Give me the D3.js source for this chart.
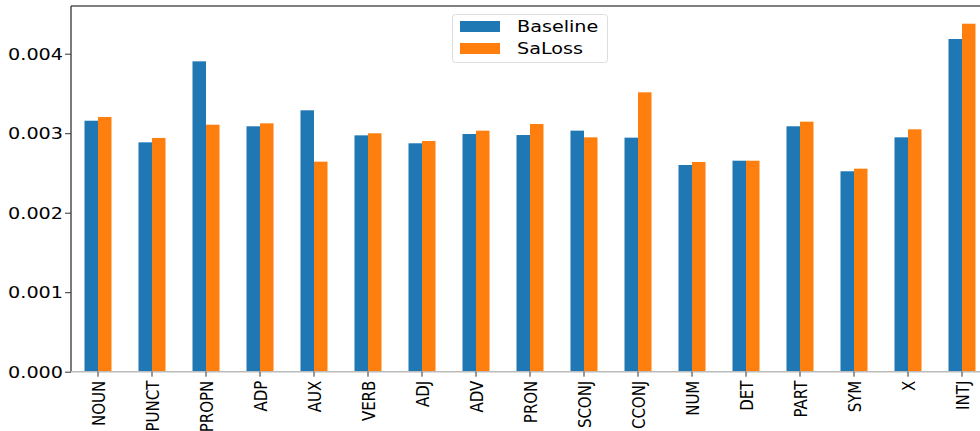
<!DOCTYPE html>
<html>
<head>
<meta charset="utf-8">
<script src="https://cdn.jsdelivr.net/npm/d3@7"></script>
<style>
  html, body { margin: 0; padding: 0; background: #fff; }
  svg { display: block; font-family: "DejaVu Sans", sans-serif; }
</style>
</head>
<body>
<svg id="chart" width="980" height="431"></svg>
<script>
// Part-of-speech categories
const categories = ["NOUN", "PUNCT", "PROPN", "ADP", "AUX", "VERB", "ADJ", "ADV", "PRON",
  "SCONJ", "CCONJ", "NUM", "DET", "PART", "SYM", "X", "INTJ"];

// Values per series
const baseline = [0.003157, 0.002885, 0.003904, 0.003087, 0.003288, 0.002973, 0.002873, 0.002990,
  0.002977, 0.003032, 0.002944, 0.002600, 0.002654, 0.003087, 0.002521, 0.002948, 0.004185];
const saloss = [0.003204, 0.002940, 0.003107, 0.003124, 0.002642, 0.002999, 0.002902, 0.003032,
  0.003116, 0.002948, 0.003514, 0.002638, 0.002654, 0.003145, 0.002554, 0.003049, 0.004377];

const seriesNames = ["Baseline", "SaLoss"];
const seriesColors = ["#1f77b4", "#ff7f0e"];
const yTicks = [0.000, 0.001, 0.002, 0.003, 0.004];

const svg = d3.select("#chart");
const plotLeft = 71, plotTop = 6, plotBottom = 371.7;
const step = 54;
const sx = 1.23; // horizontal text stretch

const x = d3.scaleBand().domain(categories).range([plotLeft, plotLeft + step * categories.length]).padding(0);
const y = d3.scaleLinear().domain([0, 0.0046]).range([plotBottom, plotTop]);
const barW = x.bandwidth() * 0.25;

const series = [baseline, saloss];
series.forEach((vals, si) => {
  svg.append("g").selectAll("rect").data(categories).join("rect")
    .attr("x", (c) => x(c) + x.bandwidth() / 2 - barW + si * barW)
    .attr("width", barW)
    .attr("y", (c, i) => y(vals[i]))
    .attr("height", (c, i) => y(0) - y(vals[i]))
    .attr("fill", seriesColors[si]);
});

// Spines
svg.append("line").attr("x1", plotLeft).attr("x2", 980).attr("y1", plotTop).attr("y2", plotTop)
  .attr("stroke", "#555").attr("stroke-width", 1.3);
svg.append("line").attr("x1", plotLeft).attr("x2", plotLeft).attr("y1", plotTop).attr("y2", plotBottom)
  .attr("stroke", "#333").attr("stroke-width", 1.3);
svg.append("line").attr("x1", plotLeft).attr("x2", 980).attr("y1", plotBottom).attr("y2", plotBottom)
  .attr("stroke", "#bbb").attr("stroke-width", 1.6);

// Y axis
const yAxis = svg.append("g").attr("transform", `translate(${plotLeft},0)`)
  .call(d3.axisLeft(y).tickValues(yTicks).tickFormat(d3.format(".3f")).tickSize(6).tickPadding(0));
yAxis.select(".domain").remove();
yAxis.selectAll(".tick line").attr("stroke", "#333").attr("stroke-width", 1);
yAxis.selectAll(".tick text")
  .attr("x", null).attr("dy", "0.36em")
  .attr("transform", `translate(-8,0) scale(${sx},1)`)
  .attr("fill", "#000").style("font-size", "15.6px").style("font-family", "DejaVu Sans");

// X axis
const xAxis = svg.append("g").attr("transform", `translate(0,${plotBottom})`)
  .call(d3.axisBottom(x).tickSize(5).tickPadding(0));
xAxis.select(".domain").remove();
xAxis.selectAll(".tick line").attr("stroke", "#333").attr("stroke-width", 1);
xAxis.selectAll(".tick text")
  .attr("y", null).attr("dy", "0.36em").attr("text-anchor", "end")
  .attr("transform", `translate(0,9) scale(${sx},1) rotate(-90)`)
  .attr("fill", "#000").style("font-size", "15px").style("font-family", "DejaVu Sans");

// Legend
const lg = svg.append("g");
lg.append("rect").attr("x", 452.5).attr("y", 14.5).attr("width", 155).attr("height", 48)
  .attr("rx", 3).attr("fill", "#fff").attr("fill-opacity", 0.8).attr("stroke", "#ddd");
seriesNames.forEach((name, i) => {
  const cy = 26.5 + i * 22;
  lg.append("rect").attr("x", 460).attr("y", cy - 5.5).attr("width", 40).attr("height", 11)
    .attr("fill", seriesColors[i]);
  lg.append("text").attr("transform", `translate(517,${cy}) scale(${sx},1)`)
    .attr("dy", "0.36em").style("font-size", "15.6px").attr("fill", "#000").text(name);
});
</script>
</body>
</html>
